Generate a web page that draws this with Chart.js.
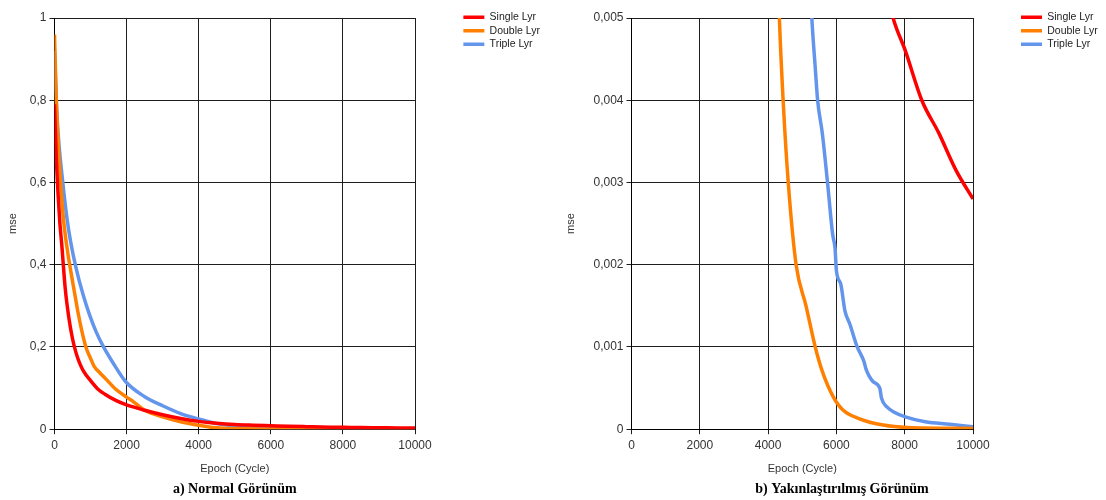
<!DOCTYPE html>
<html>
<head>
<meta charset="utf-8">
<script src="https://cdn.jsdelivr.net/npm/chart.js@4.4.1/dist/chart.umd.min.js"></script>
<style>
  body { margin: 0; background: #fff; }
  .wrap { display: flex; width: 1106px; height: 500px; }
  .box { position: relative; width: 553px; height: 500px; }
</style>
</head>
<body>
<div class="wrap">
  <div class="box"><canvas id="normalChart"></canvas></div>
  <div class="box"><canvas id="zoomChart"></canvas></div>
</div>
<script>
// mse per epoch
const singleEpochs = [0, 50, 100, 150, 200, 300, 400, 500, 600, 700, 800, 1000, 1200, 1400, 1700, 2000, 2500, 3000, 3500, 4000, 4500, 5000, 5500, 6000, 6500, 7000, 7660, 8020, 8500, 9000, 9500, 10000];
const singleMse = [0.79, 0.66, 0.57, 0.5, 0.45, 0.34, 0.27, 0.22, 0.185, 0.16, 0.142, 0.118, 0.098, 0.085, 0.07, 0.059, 0.046, 0.035, 0.026, 0.019, 0.0145, 0.0115, 0.0098, 0.0085, 0.0072, 0.0062, 0.005, 0.0046, 0.004, 0.0036, 0.00315, 0.0028];

const doubleEpochs = [0, 50, 100, 170, 250, 350, 450, 550, 650, 750, 870, 1000, 1100, 1250, 1450, 1700, 2000, 2200, 2500, 3000, 3500, 4000, 4330, 4440, 4590, 4820, 5110, 5380, 5590, 5900, 6200, 6660, 7370, 8090, 10000];
const doubleMse = [0.96, 0.8, 0.7, 0.6, 0.51, 0.44, 0.385, 0.335, 0.285, 0.242, 0.2, 0.172, 0.153, 0.138, 0.12, 0.097, 0.078, 0.066, 0.046, 0.03, 0.018, 0.0095, 0.005, 0.004, 0.003, 0.002, 0.0015, 0.001, 0.0007, 0.0004, 0.00023, 0.00013, 0.00005, 0.00002, 0.00001];

const tripleEpochs = [0, 50, 100, 230, 350, 450, 590, 800, 985, 1150, 1330, 1625, 1970, 2500, 3000, 3500, 4000, 4500, 5000, 5280, 5380, 5450, 5590, 5740, 5890, 5960, 6000, 6130, 6250, 6400, 6610, 6810, 6860, 7070, 7270, 7320, 7480, 7680, 8020, 8600, 9320, 10000];
const tripleMse = [0.92, 0.8, 0.72, 0.6, 0.51, 0.455, 0.395, 0.325, 0.275, 0.238, 0.205, 0.161, 0.116, 0.079, 0.057, 0.038, 0.025, 0.0135, 0.0075, 0.005, 0.0044, 0.004, 0.00359, 0.003, 0.00237, 0.0022, 0.00193, 0.00176, 0.00144, 0.00127, 0.001, 0.00082, 0.00074, 0.00058, 0.0005, 0.00038, 0.00027, 0.00021, 0.00015, 0.00009, 0.00006, 0.00003];

const seriesNames = ['Single Lyr', 'Double Lyr', 'Triple Lyr'];
const seriesColors = ['#ff0000', '#ff8000', '#6495ed'];

const epochTicks = [0, 2000, 4000, 6000, 8000, 10000];
const normalMseTicks = [0, 0.2, 0.4, 0.6, 0.8, 1];
const zoomMseTicks = [0, 0.001, 0.002, 0.003, 0.004, 0.005];

Chart.defaults.font.family = "'Liberation Sans', Arial, sans-serif";
Chart.defaults.color = '#333';

function toPoints(xs, ys) {
    return xs.map((x, i) => ({ x: x, y: ys[i] }));
}

function buildDatasets() {
    const sets = [
        toPoints(singleEpochs, singleMse),
        toPoints(doubleEpochs, doubleMse),
        toPoints(tripleEpochs, tripleMse)
    ];
    return sets.map((pts, i) => ({
        label: seriesNames[i],
        data: pts,
        borderColor: seriesColors[i],
        backgroundColor: seriesColors[i],
        borderWidth: 3.5,
        pointRadius: 0,
        cubicInterpolationMode: 'monotone',
        fill: false
    }));
}

const gridColor = '#1e1e1e';

function initializeChart(id, cfg) {
    const ctx = document.getElementById(id);
    if (!ctx) return;

    new Chart(ctx, {
        type: 'line',
        data: { datasets: buildDatasets() },
        options: {
            responsive: true,
            maintainAspectRatio: false,
            animation: false,
            layout: {
                padding: { top: 9, bottom: 0, left: cfg.padLeft, right: cfg.padRight }
            },
            plugins: {
                tooltip: { enabled: false },
                legend: {
                    position: 'right',
                    align: 'start',
                    labels: {
                        usePointStyle: true,
                        pointStyle: 'line',
                        pointStyleWidth: 21,
                        padding: 3,
                        color: '#222',
                        font: { size: 10.5 }
                    }
                },
                title: {
                    display: true,
                    text: cfg.caption,
                    position: 'bottom',
                    fullSize: cfg.captionFull,
                    color: '#000',
                    font: { family: "'Liberation Serif', 'Times New Roman', serif", size: 14, weight: 'bold' },
                    padding: { top: 4, bottom: 2 }
                }
            },
            scales: {
                x: {
                    type: 'linear',
                    min: 0,
                    max: 10000,
                    afterBuildTicks: (s) => { s.ticks = epochTicks.map(v => ({ value: v })); },
                    afterFit: (s) => { s.height = 48; },
                    grid: { color: gridColor, lineWidth: 1, tickLength: 5 },
                    border: { color: '#000', width: 1 },
                    ticks: {
                        autoSkip: false,
                        maxRotation: 0,
                        padding: 4,
                        font: { size: 12 },
                        callback: (v) => String(v)
                    },
                    title: {
                        display: true,
                        text: 'Epoch (Cycle)',
                        font: { size: 11 },
                        padding: { top: 4, bottom: 2 }
                    }
                },
                y: {
                    type: 'linear',
                    min: 0,
                    max: cfg.yMax,
                    afterBuildTicks: (s) => { s.ticks = cfg.yTicks.map(v => ({ value: v })); },
                    afterFit: (s) => { s.width = cfg.yWidth; },
                    grid: { color: gridColor, lineWidth: 1, tickLength: 5 },
                    border: { color: '#000', width: 1 },
                    ticks: {
                        padding: 3,
                        font: { size: 12 },
                        callback: (v) => String(+v.toFixed(3)).replace('.', ',')
                    },
                    title: {
                        display: true,
                        text: 'mse',
                        font: { size: 11 },
                        padding: { top: cfg.yTitlePad, bottom: 0 }
                    }
                },
                // empty spacer axes that keep the plot clear of the legend and top edge
                gapTop: {
                    type: 'linear',
                    position: 'top',
                    grid: { display: false },
                    border: { display: false },
                    ticks: { display: false },
                    afterFit: (s) => { s.height = 9; }
                },
                gapRight: {
                    type: 'linear',
                    position: 'right',
                    grid: { display: false },
                    border: { display: false },
                    ticks: { display: false },
                    afterFit: (s) => {
                        const legendW = s.chart.legend ? s.chart.legend.width : 0;
                        s.width = Math.max(0, s.chart.width - cfg.padRight - cfg.plotRight - legendW);
                    }
                }
            }
        }
    });
}

document.addEventListener("DOMContentLoaded", function () {
    initializeChart('normalChart', {
        caption: 'a) Normal Görünüm',
        captionFull: false,
        yMax: 1,
        yTicks: normalMseTicks,
        yWidth: 54.5,
        yTitlePad: 6.4,
        padLeft: 0,
        padRight: 3,
        plotRight: 415
    });
    initializeChart('zoomChart', {
        caption: 'b) Yakınlaştırılmış Görünüm',
        captionFull: true,
        yMax: 0.005,
        yTicks: zoomMseTicks,
        yWidth: 53.5,
        yTitlePad: -14,
        padLeft: 25,
        padRight: 0,
        plotRight: 420
    });
});
</script>
</body>
</html>
